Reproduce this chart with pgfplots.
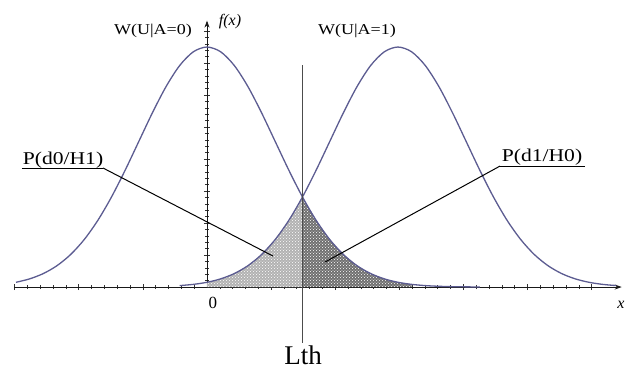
\documentclass[border=0pt]{standalone}
\usepackage{fontspec}
\setmainfont{Liberation Serif}
\usepackage{graphicx}
\usepackage{pgfplots}
\usepackage{pgfplotstable}
\pgfplotsset{compat=1.18}
\usetikzlibrary{patterns,arrows.meta}
\definecolor{curve}{RGB}{92,92,145}
\definecolor{lightfill}{RGB}{178,178,178}
\definecolor{darkfill}{RGB}{112,112,112}

\pgfplotstableread{
x y
-2.8 0.0198
-2.6 0.0340
-2.4 0.0561
-2.2 0.0889
-2.0 0.1353
-1.8 0.1979
-1.6 0.2780
-1.4 0.3753
-1.2 0.4868
-1.0 0.6065
-0.8 0.7261
-0.6 0.8353
-0.4 0.9231
-0.2 0.9802
0.0 1.0000
0.2 0.9802
0.4 0.9231
0.6 0.8353
0.8 0.7261
1.0 0.6065
1.2 0.4868
1.4 0.3753
1.6 0.2780
1.8 0.1979
2.0 0.1353
2.2 0.0889
2.4 0.0561
2.6 0.0340
2.8 0.0198
3.0 0.0111
3.2 0.0060
3.4 0.0031
3.6 0.0015
3.8 0.0007
4.0 0.0003
}\curveA

\pgfplotstableread{
x y
-0.4 0.0060
-0.2 0.0111
0.0 0.0198
0.2 0.0340
0.4 0.0561
0.6 0.0889
0.8 0.1353
1.0 0.1979
1.2 0.2780
1.4 0.3753
1.6 0.4868
1.8 0.6065
2.0 0.7261
2.2 0.8353
2.4 0.9231
2.6 0.9802
2.8 1.0000
3.0 0.9802
3.2 0.9231
3.4 0.8353
3.6 0.7261
3.8 0.6065
4.0 0.4868
4.2 0.3753
4.4 0.2780
4.6 0.1979
4.8 0.1353
5.0 0.0889
5.2 0.0561
5.4 0.0340
5.6 0.0198
5.8 0.0111
6.0 0.0060
}\curveB

\pgfplotstableread{
x y
0.0 0.0198
0.2 0.0340
0.4 0.0561
0.6 0.0889
0.8 0.1353
1.0 0.1979
1.2 0.2780
1.4 0.3753
}\shadeL

\pgfplotstableread{
x y
1.4 0.3753
1.6 0.2780
1.8 0.1979
2.0 0.1353
2.2 0.0889
2.4 0.0561
2.6 0.0340
2.8 0.0198
3.0 0.0111
}\shadeR

\begin{document}
\begin{tikzpicture}
\begin{axis}[
  scale only axis, width=607.7pt, height=266.4pt,
  xmin=-2.83, xmax=6.08, ymin=0, ymax=1.11,
  axis lines=middle,
  axis line style={black!90, line width=0.8pt, -{Stealth[length=7pt,width=5pt]}},
  xtick distance=0.94, minor x tick num=4,
  ytick distance=0.1333, minor y tick num=4,
  xticklabels={}, yticklabels={},
  tick align=center, major tick length=6pt, minor tick length=4pt,
  tick style={black!80, line width=0.6pt},
  clip=false,
]
\addplot[fill=lightfill, draw=none, postaction={pattern=crosshatch dots, pattern color=white}] table {\shadeL} \closedcycle;
\addplot[fill=darkfill, draw=none, postaction={pattern=crosshatch dots, pattern color=white}] table {\shadeR} \closedcycle;
\addplot[curve, line width=1.3pt, smooth] table {\curveA};
\addplot[curve, line width=1.3pt, smooth] table {\curveB};
\addplot[black!70, line width=1pt] coordinates {(1.4,-0.233) (1.4,0.925)};
\addplot[black, line width=0.8pt] coordinates {(-2.713,0.496) (-1.525,0.496)};
\addplot[black, line width=1pt] coordinates {(-1.525,0.496) (0.968,0.129)};
\addplot[black, line width=0.8pt] coordinates {(5.543,0.504) (4.296,0.504)};
\addplot[black, line width=1pt] coordinates {(4.296,0.504) (1.730,0.104)};

\node[anchor=base] at (axis cs:-2.111,0.5125) {\fontsize{18}{20}\selectfont\scalebox{1.2}[1]{P(d0/H1)}};
\node[anchor=base] at (axis cs:4.912,0.521) {\fontsize{18}{20}\selectfont\scalebox{1.2}[1]{P(d1/H0)}};
\node at (axis cs:-0.792,1.067) {\fontsize{15}{18}\selectfont\scalebox{1.2}[1]{W(U|A=0)}};
\node at (axis cs:2.199,1.067) {\fontsize{15}{18}\selectfont\scalebox{1.2}[1]{W(U|A=1)}};
\node at (axis cs:0.337,1.108) {\fontsize{16}{18}\selectfont\itshape f(x)};
\node at (axis cs:6.07,-0.075) {\fontsize{16}{18}\selectfont\itshape x};
\node at (axis cs:0.088,-0.067) {\fontsize{17}{20}\selectfont 0};
\node[anchor=base, inner sep=0pt] at (axis cs:1.408,-0.322) {\fontsize{27}{30}\selectfont Lth};

\coordinate (BL) at (axis cs:-3.035,-0.342);
\coordinate (TR) at (axis cs:6.129,1.196);
\end{axis}
\pgfresetboundingbox
\useasboundingbox (BL) rectangle (TR);
\end{tikzpicture}
\end{document}
